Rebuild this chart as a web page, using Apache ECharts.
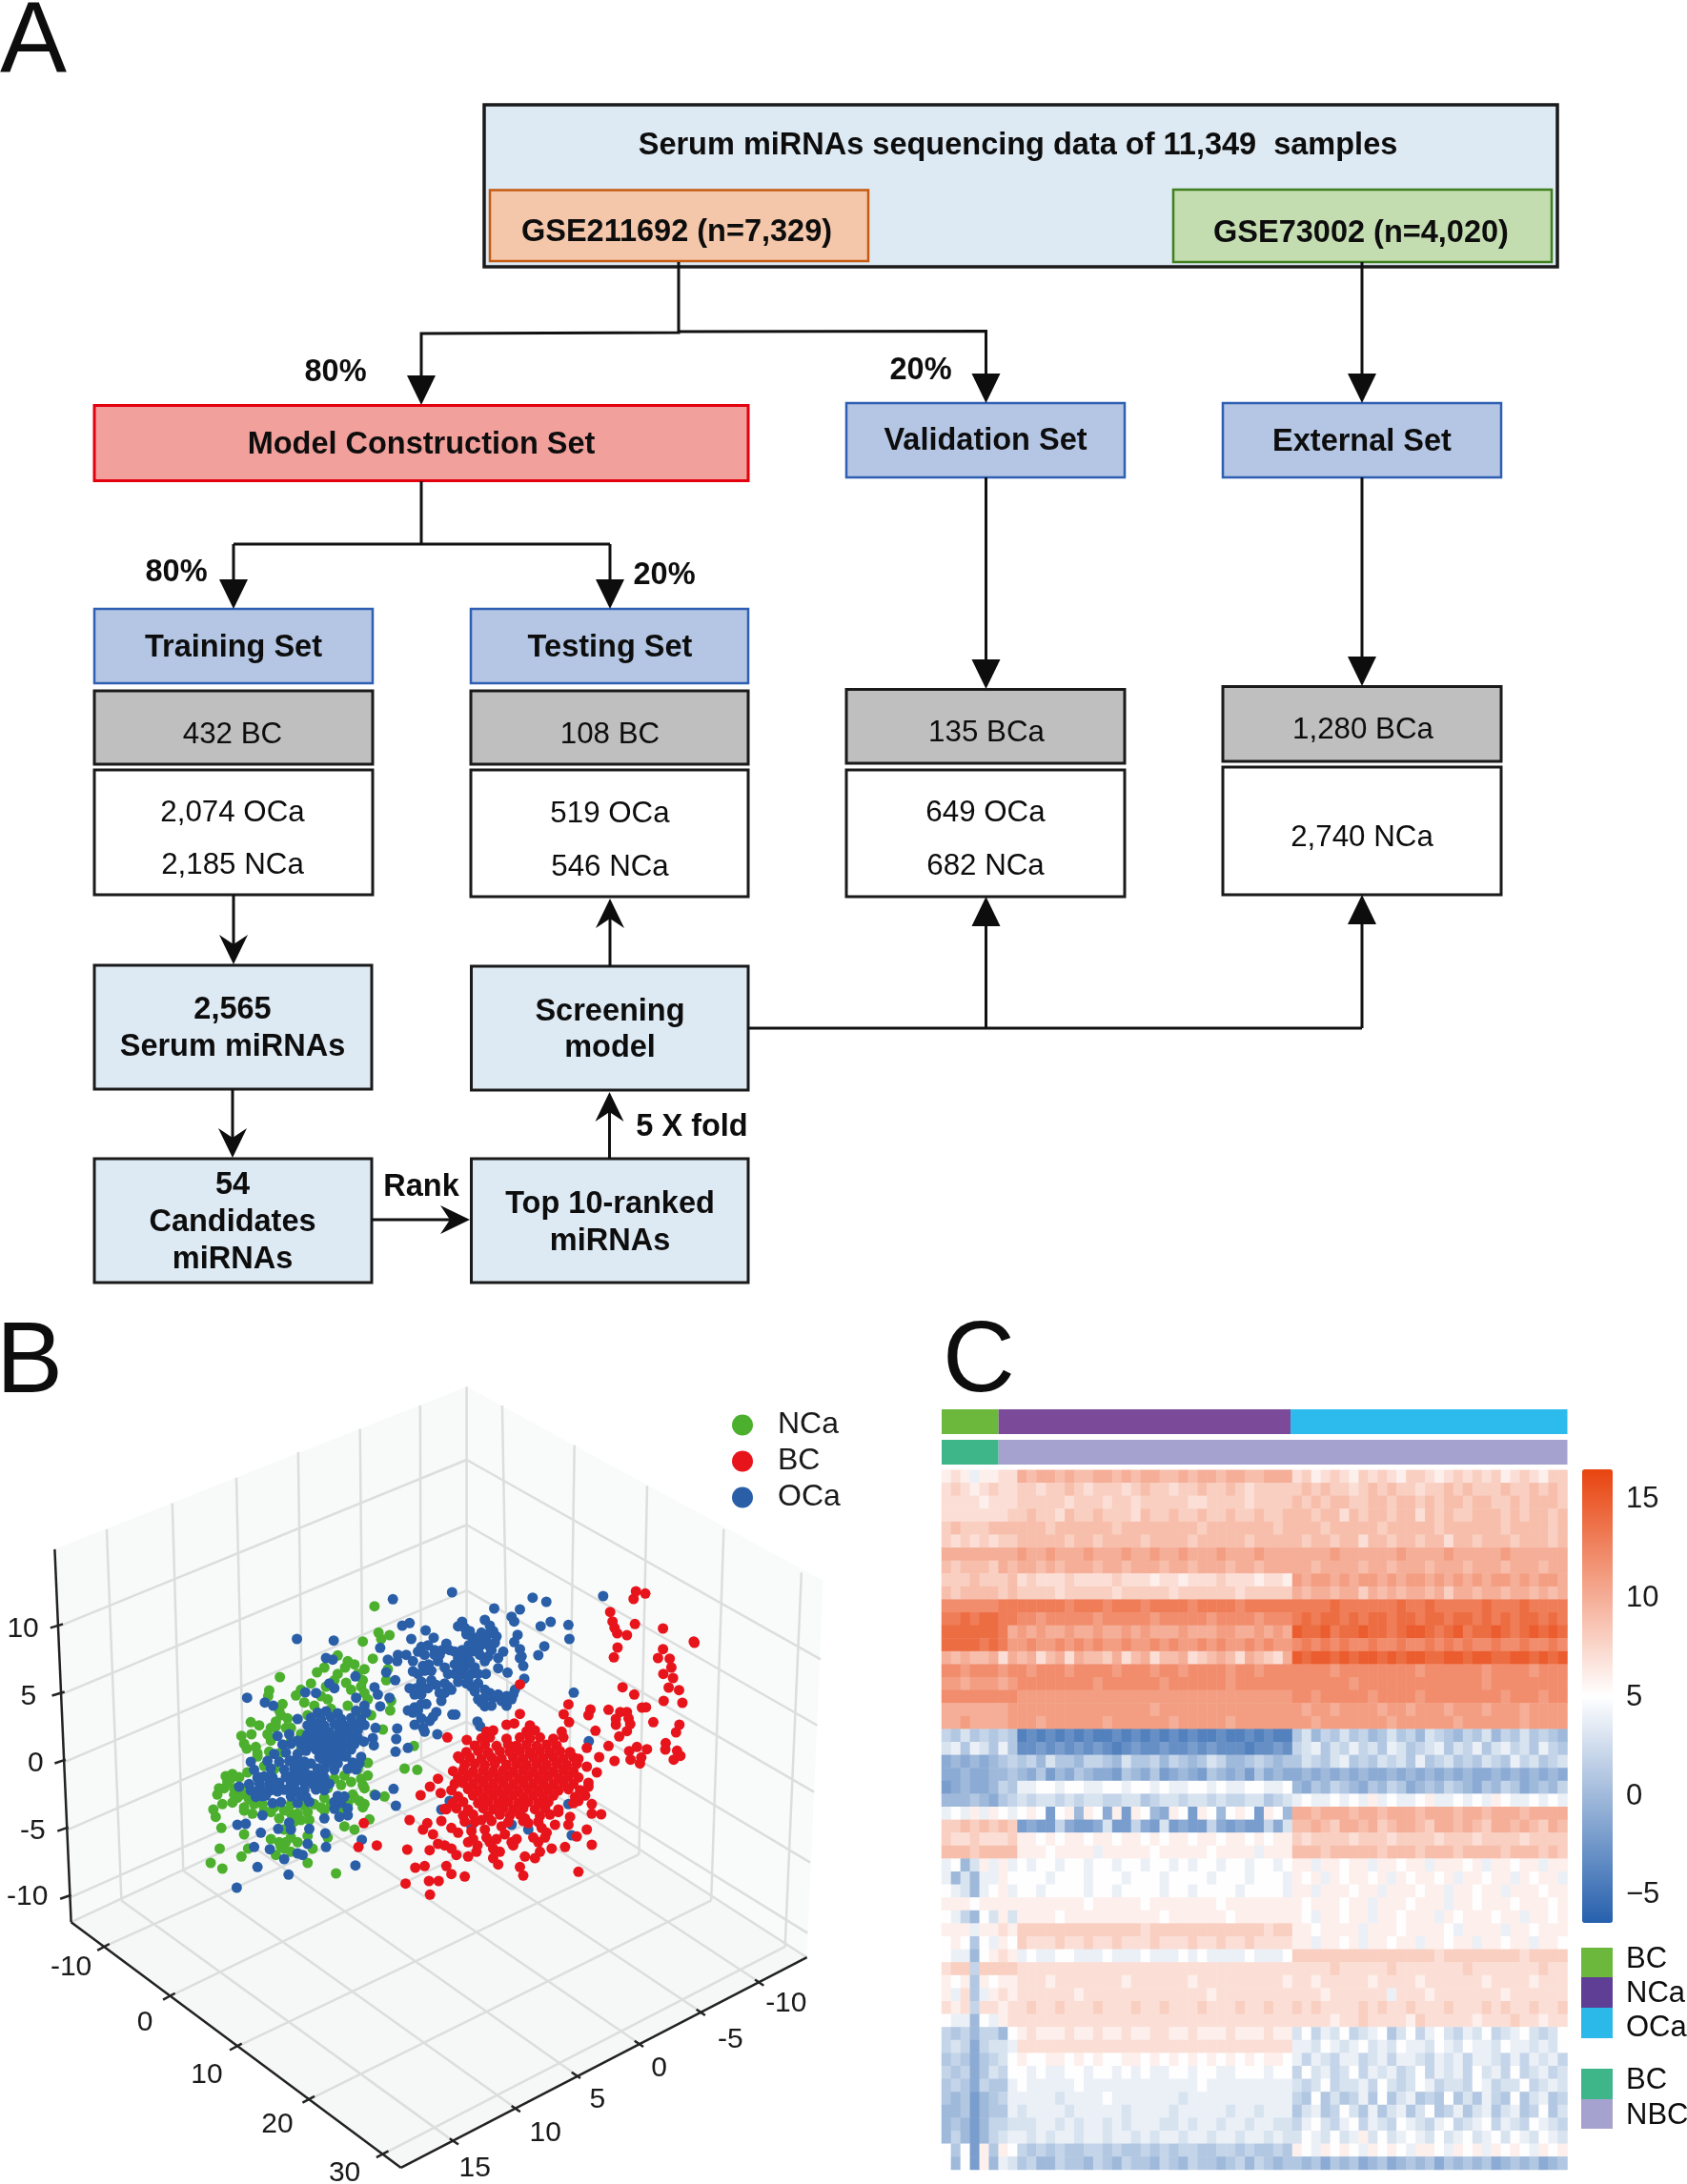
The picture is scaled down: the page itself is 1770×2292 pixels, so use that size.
<!DOCTYPE html>
<html><head><meta charset="utf-8">
<style>html,body{margin:0;padding:0;background:#fff}#c{width:1770px;height:2292px}</style>
<script src="https://cdn.jsdelivr.net/npm/echarts@6/dist/echarts.min.js"></script>
</head><body><div id="c"></div>
<script>
// ---------- data: panel B (projected positions) ----------
const scatterNCa=[550,257,562,340,570,360,595,348,515,368,545,422,590,455,585,490,600,555,597,585,267,480,440,412,470,430,490,440,378,465,400,450,462,450,520,455,515,490,465,498,430,490,510,510,360,500,330,520,315,538,235,522,232,540,275,565,265,585,405,510,410,550,530,550,180,622,205,632,182,660,152,665,160,690,168,705,240,640,255,635,290,610,285,640,330,660,200,730,235,715,575,645,668,697,530,750,640,768,678,772,580,856,550,850,105,792,125,785,145,795,170,780,85,830,80,850,130,850,125,875,95,880,68,897,75,920,92,955,160,975,87,1020,60,1065,95,1083,152,1045,172,1020,350,1065,435,1098,535,928,460,950,490,960,240,990,265,1000,285,1000,300,985,280,1020,255,1040,350,980,365,1020,410,985,160,900,185,910,265,925,300,910,350,905,355,930,390,890,515,820,510,800,520,880,515,890,300,640,240,680,220,760,200,720,130,830,140,860,330,710,340,760,430,800,460,790,480,810,500,770,520,830,450,820,400,860,370,880,340,885,300,880,280,900,160,890,350,600,500,590,540,600,370,570,420,580,470,570,520,530,300,680,265,720,250,770,120,800,150,830,175,865,215,880,250,890,310,935,330,860,410,830,445,860,485,850,505,870,280,960,320,1000,270,1015,300,1030,110,810,100,830,150,850,170,850,190,880,220,900,240,905,320,910,330,930,400,900,420,880,470,880,490,860,530,790,440,470,500,470,480,520,390,540,340,560,270,600,255,620,230,660,195,700,450,900];
const scatterOCa=[782,213,605,235,1023,230,1064,243,1234,225,908,264,985,267,960,290,968,305,1047,320,1077,306,1130,316,1133,360,1058,383,1040,411,633,318,655,310,703,333,660,360,727,356,318,360,428,365,567,388,1146,529,998,485,948,466,920,452,883,470,978,347,968,370,985,392,990,415,985,420,995,445,812,306,820,325,825,345,840,352,860,355,880,300,895,318,905,335,915,352,910,372,895,385,870,378,850,372,832,380,812,395,790,400,765,375,752,395,730,410,710,380,690,385,740,430,712,440,695,445,820,420,822,445,815,470,790,470,770,470,800,495,760,500,735,505,720,490,690,495,675,515,655,515,690,535,705,565,680,585,650,585,665,592,760,530,750,555,825,500,840,510,850,525,860,550,880,572,900,570,895,530,920,535,945,540,965,535,945,570,970,520,850,450,860,470,935,400,920,420,890,415,880,430,735,590,725,605,715,618,783,598,792,598,690,610,670,630,695,640,700,652,738,660,858,620,866,635,645,410,620,410,618,430,590,425,665,430,665,462,585,465,612,490,550,512,560,535,595,545,567,572,553,640,618,642,615,675,613,715,650,703,518,683,545,672,548,695,607,832,553,852,614,885,1191,682,750,897,775,870,1140,978,1130,880,1010,960,960,945,840,950,
800,320,835,335,870,340,890,345,880,360,860,395,840,400,825,410,800,420,775,395,745,410,730,395,700,410,680,400,700,460,680,470,720,460,760,450,790,440,835,430,810,440,800,455,840,470,830,490,780,520,770,510,745,530,710,515,690,515,670,535,670,575,690,565,860,500,880,520,880,545,870,560,905,545,930,555,960,550,885,370,900,395,865,410,
380,592,405,588,440,594,495,586,525,592,320,612,360,608,390,613,420,607,450,612,480,609,510,612,350,632,375,628,400,633,430,628,460,632,490,629,520,631,365,652,390,648,415,653,445,649,470,652,500,648,345,672,375,668,400,673,425,669,450,672,480,668,500,671,330,692,360,689,385,693,410,688,435,692,465,689,490,691,345,712,375,708,400,713,425,709,450,711,480,708,385,732,410,728,435,733,460,729,510,731,360,752,410,748,440,752,485,749,505,752,340,772,380,768,430,772,470,769,495,771,
300,690,275,692,250,722,285,718,320,722,180,747,230,744,265,747,300,743,340,746,190,772,240,768,280,772,310,768,330,771,380,769,200,797,220,793,245,796,300,793,325,797,380,794,400,796,175,817,205,814,235,817,265,813,310,816,340,814,365,817,395,813,415,816,180,837,210,833,240,836,290,833,315,837,375,834,400,836,195,857,225,853,300,856,330,853,345,857,440,854,460,856,245,877,270,874,320,877,355,873,450,876,430,873,430,895,470,893,
240,790,260,815,285,795,300,815,280,835,260,840,205,795,190,840,215,855,340,800,360,790,370,815,340,835,345,790,315,770,295,745,320,745,350,700,320,680,350,660,380,650,440,630,470,640,455,690,420,690,395,700,440,710,465,730,420,750,400,770,395,740,
169,545,222,560,247,570,343,528,375,530,405,420,425,425,415,500,430,515,493,478,495,545,520,570,145,825,215,915,400,925,445,920,470,915,140,945,165,942,295,938,300,960,210,970,262,958,355,958,403,972,512,992,190,1015,237,1022,350,1005,405,1015,320,1035,335,1040,280,1053,200,1078,293,1102,138,1143,493,1073,260,665,295,660];
const scatterBC=[1332,210,1360,217,1325,234,1255,275,1262,305,1268,325,1276,342,1305,348,1329,313,1413,327,1507,372,1505,368,1277,387,1266,418,1413,392,1398,420,1433,422,1438,450,1414,470,1443,483,1430,513,1461,521,1415,555,1471,561,1292,512,1327,535,1130,566,1196,582,1190,600,1116,597,1132,622,1250,583,1285,590,1305,590,1350,576,1362,575,1310,610,1272,612,1272,630,1315,628,1305,650,1282,667,1384,622,1462,630,1452,654,1211,649,1421,688,1420,708,1455,712,1465,728,1445,740,1365,707,1335,700,1312,713,1348,733,1344,752,1316,740,1268,744,1250,697,1222,732,1185,703,985,503,985,596,
740,800,716,825,688,852,748,845,760,895,655,930,708,940,695,960,750,933,780,955,800,970,725,975,840,965,845,990,830,1000,740,1005,760,1010,715,1025,648,1023,780,1020,795,1040,830,1045,855,1030,858,1010,885,985,895,1000,915,990,905,1020,925,1030,905,1050,920,1070,975,990,965,1010,1000,1045,1030,1050,1045,1030,1040,1000,1025,985,1060,985,1080,1020,1120,1015,1090,945,1100,905,1135,920,1130,945,1160,870,1185,960,1155,982,1200,1008,1200,880,1200,910,1228,912,1215,780,1185,762,1190,825,672,1080,700,1075,765,1075,780,1100,820,1108,985,1078,995,1105,1160,1093,643,1130,713,1122,742,1122,716,1165,518,940,557,1010,502,1015,768,670,826,678,800,730,1000,925,1050,955,1065,970,960,1000,940,975,1010,940,930,950,880,960,820,935,870,930,
945,630,968,626,1015,632,885,652,905,648,1005,651,1030,648,1110,652,870,673,895,670,945,674,985,670,1015,673,1045,670,1085,674,1115,670,850,696,880,693,915,697,950,693,975,696,1005,693,1035,697,1065,693,1095,696,825,716,860,713,890,717,925,713,955,716,985,713,1015,717,1045,713,1075,716,1105,713,1135,716,805,736,835,733,870,737,900,733,930,736,965,733,995,737,1025,733,1055,736,1085,733,1115,737,1145,733,1160,737,820,756,850,753,880,757,910,753,945,756,975,753,1005,757,1035,753,1065,756,1095,753,1125,757,1155,753,785,776,815,773,845,777,875,773,905,776,935,773,965,777,995,773,1025,776,1055,773,1085,777,1115,773,1145,776,800,796,830,793,860,797,890,793,920,796,950,793,980,797,1010,793,1040,796,1070,793,1100,797,1130,793,1160,796,790,816,815,813,845,817,875,813,905,816,935,813,965,817,995,813,1025,816,1055,813,1085,817,1115,813,1145,816,1190,813,780,836,830,833,860,837,890,833,920,836,950,833,980,837,1010,833,1040,836,1070,833,1100,837,1130,833,1165,836,800,856,845,853,875,857,905,853,935,856,965,853,995,857,1025,853,1055,856,1085,853,1150,857,1180,853,785,876,815,873,860,877,890,873,920,876,950,873,980,877,1010,873,1040,876,1070,873,1145,877,765,896,795,893,830,897,875,893,905,896,935,893,965,897,995,893,1030,896,1060,893,1100,897,815,916,845,913,890,917,925,913,955,916,985,913,1045,917,1075,913,850,936,900,933,950,937,995,933,1040,936];
const scatterNames=['NCa','BC','OCa'];
const zTicks=['10','5','0','-5','-10'];
const leftTicks=['-10','0','10','20','30'];
const rightTicks=['-10','-5','0','5','10','15'];

// ---------- data: panel C ----------
// one letter per cell: a=-6, b=-5 ... g=0 ... l=5 ... q=10 ... v=15, w=16
const heatRows=[
"mnmkmmnn qpqqpqppqq pqpqqppqpq qpqqppqqq nomnonmono nmoonmnono nomnonmoo",
"nonmnonn oonooponoo onopoonoop ooponoooo opopoonopo poonoopopo oopoopopo",
"nnnnmnnn ooooonooon oonooooonn oooonoooo popoppoopp oppopoppop poopopppo",
"nnnnnnno opoonpoopo oonpoopoop oopoopoop ppoppnpopp oppnpopoop ppopoppop",
"opoooppp pppopppppp oppppppppo pppppppop pppopppppo pppppopppp ppoppppop",
"onononoo pppppoppop pppoppppop ppppopppp poppoppnpp oppoppnppo pppopppop",
"qqqqqqqq rqqrqqqrqq qrqqrqqrqq qrqqqrqqq qqqqrqqqqq qrqqqqrqqq qqrqqqqqq",
"popppoqp qqpqpqqqpq qpqqqpqqpq qqpqqpqqq qqpqqqqpqq pqqqpqqqpq qqpqqqpqq",
"ooopooop nonnnonnnn onnnmnnmnn nonnnmnnm rqrrqrqrrq rqrrqrqrqr qrrqrqrrq",
"poppppop oooonooooo nooooonooo ooonooooo qpqqpqqoqp qpqqpqoqqp qqpqqpqpq",
"sssssstt tttttsttts tttsttttst tttsttttt ttttuttttt tuttuttttt utttutttt",
"ttutuutt ssrsssssrs ssssrsssss rssssrsss tutuututuu tuutuutuut ututuutut",
"uuuuuutq rqrqqrqqrq qrqrqqqrqq qrrqqrqrq vuuvtuuvuu tuvvutuvtu uvutuvuvu",
"uuuututr rsrrsrsrsr rsrrsrsrrs rsrrsrsrr stststssts stsstststs stsstssts",
"qpqppqnq pqnpqnqppo qnpqnppqno pqpnqponq vuvvuvuvvu vuvvuuvvuv vuuvvuvuv",
"ssrsssrs srsssrssss rsssrssrss ssrssrsss ssssrsssss sssrssssss rssssrsss",
"rrqrrrqr ssssssssrs sssssrssss ssrssssss ssssssrsss ssssssssss rssssssss",
"ssssssss rrrrrrrrrr rrrrrrrrrr rrrrrrrrr ssrsssssrs sssrssssss ssrsssrss",
"qqqqqqqr rrrrrrrrrr rrrrqrrrrr rrrrrrrrr rqrrqrrrrq rrqrrrqrrr qrrrqrrrr",
"qqrqqqqr rrqrrrrrrq rrrrrrqrrr rrqrrrrrr rrqrrrrrrr qrrrrrrqrr rrrrqrrrr",
"ihjhihih cdcdcdcdcc dcdcdcdcdc cdccdcdcc hjgihjhigh jhigjihgih jgihjhihg",
"jkhkjhkh ddedededed cdeddedded edddcdded ijkhjikijh kjhijkhjik hjkijhkih",
"fgfgfghi higjhhgiih gjhhigihgh jigghihgh hjihjkhihj ijhkhijhih jihkijhij",
"ffgffggh gfhegfhgff ehgfhefgfe hgfgehfgf fgfgfgfgff gfgfgfgfgf fgfgfgfgf",
"efgffgih kkllkllkkl lkllklkkll klkkllkkl gfhgihgfhg ihfghgihgf hgihfghgi",
"ggghgfhi jijjijijji ijjhijjijj ijiijjhij klkklklkmk lkklmkklkl kmlkklklk",
"klkmkmlk lmlelmgmlf memlgfmlem lglmlemlg qqpqqqpqqp qqqpqqqpqq pqqqpqqqq",
"oopopopo efeeifeefj eeifejefee ifefeeifj ppqpoqqpqo pqqpoqqpqp oqqpqpoqp",
"onnonnno mmlmlmmlmm lmmlmlmmlm mlmmlmlmm onoooonooo noooonooon oooonoooo",
"pppopppp mmmlmmmmkm mmmmlmmmmm lmmmmkmmm pppopppppo pppopppopp ppopppopo",
"klgjmkmk lkllkllkll kllkllklkl lkllkllkl mmkmmlmmkm mlmmkmmmlm kmmlmmkmm",
"kgjgkkml lllklllkll lklllkllll klllklllk mlmkmlmmlm kmlmmlmkmm lmmkmlmmk",
"lkjgklmk llkllllkll kllllkllkl lllkllllk mmkmmmlmmk mmmlmmkmml mmkmmmlmm",
"mmmlmmmm mmmmmmmlmm mmmlmmmmmm mlmmmmmmm mlmmmlmmkm mmlmmmkmml mmmlmmmlm",
"lkigljmj mmmmlmmmmm mmmmmlmmmm mmlmmmmmm mlkmmlmmkm mlmmmkmlmm mlmmkmmlm",
"mmmkmmnm oooooooooo ooonoooooo oooooonoo mmlmmmmkmm mlmmmmlkmm mmkmmlmmm",
"lmlhlkml onnnonnonn onnnonnnon nonnonnnn mmkmmlmkmm lmmkmmlmmk mmlmmkmml",
"lkkglmnm klkkllkkkl kkklkkklkl kkkklkkkl oooooooooo ooooonoooo oooonoooo",
"nooioooo nnnnnnnnnn nnnnnnnnnn nnnnnnnnn nnnnonnnnn onnnnnnnon nnnnnnonn",
"mlmhmlmm nnnmnnnnnn nmnnnnnnmn nnnnnnnnm nnmnnnnnmn nnnmnnnnnn mnnnnmnnn",
"mknhkmnm nnnnnnmnnn nnnnnnnnnn mnnnnnnnn nnnmnnnnnn knnnmnnnnn nnmnnnnnn",
"nmninnmn nonnonnnon nnonnonnno nnnonnonn ononnnnono nnonnnonnn ononnonno",
"lkkglkmn nnnnnnnnnn nnnnnnnnnn nnnnnnnnn nnnnmnnonn nnmonnnnnm nnnonnmnn",
"ihigiigl mnmmmnmmnm mnmmnnmmnm mmnmmmnmm jlikjlijkl hjlikljikj lijkljijl",
"ijifijjk nnnnnnnnnn nnnnnnnnnn nnnnnnnnn kkjlkjkljk jlkkjlkjlk kjlkkjkjl",
"hihfhijl mllmmlmlml lmmlmlmlml mlmlmlmml kikjikkijk ikkjikjkik kjikikjki",
"ihifhjil lklkkllkll klklkkllkl lkklllkll iljkijlikj kijlikjkil jkilijkij",
"hihfihhk lkkkkklkkk kkkkkkkkkl kkkkkkkkk jijlijjkil jijlkijjil kijjlijkj",
"hgheghik kkkkjkkkkl kkkkkkkjkk kkkkkkkkk ihlhjhikhl hjkhihlhjh kihlhjkhi",
"ggheghhk jkkkkjkkkk kjkkkkjkkk kkjkkjkkk hjkhiljhkh jkhjlhikhj khjkhilhj",
"ghgegiij jjkkjkjkkj kjkkkjjkjk kjkkjkkjj ikljiklikj ilkjiklijk likjilkji",
"gigegijk kjkjkkjkkj kkjkjkkjkk jkkjkkjkj jlkjljkmjl jklkjljklj kljlkjlkj",
"lhlemhml ihihihhiih ihhihihiih hiihihhih mlkmlmlkml mlkmmlkmlm kmlmlkmlm",
"lglemgkj higgihhgih gihhgihgih hghigihgh hghfhghfgh fghghfhghg hfghghfgh"];
const annotTopCounts=[6,30.8,29.2];
const annotSecondCounts=[6,60];
const annotTopNames=['BC','NCa','OCa'];
const annotSecondNames=['BC','NBC'];
const colorbarTicks=[-5,0,5,10,15];
const legendTopNames=['BC','NCa','OCa'];
const legendSecondNames=['BC','NBC'];

// ---------- data: panel A text ----------
const flowTitle='Serum miRNAs sequencing data of 11,349  samples';
const flowDatasets=['GSE211692 (n=7,329)','GSE73002 (n=4,020)'];
const flowSets=['Model Construction Set','Validation Set','External Set','Training Set','Testing Set'];
const flowBC=['432 BC','108 BC','135 BCa','1,280 BCa'];
const flowCounts=['2,074 OCa','2,185 NCa','519 OCa','546 NCa','649 OCa','682 NCa','2,740 NCa'];
const flowSteps=['2,565','Serum miRNAs','Screening','model','54','Candidates','miRNAs','Top 10-ranked','miRNAs'];
const flowNotes=['80%','20%','80%','20%','Rank','5 X fold'];

// ---------- helpers ----------
const F='"Liberation Sans",Arial,sans-serif';
const pairs=a=>{const o=[];for(let i=0;i+1<a.length;i+=2)o.push([a[i],a[i+1]]);return o;};
const g=[];
function box(x0,y0,x1,y1,fill,stroke,lw){g.push({type:'rect',shape:{x:x0,y:y0,width:x1-x0,height:y1-y0},style:{fill:fill,stroke:stroke,lineWidth:lw||3}});}
function txt(s,cx,cy,size,bold,al){g.push({type:'text',x:cx,y:cy+1.5,z:5,style:{text:s,fill:'#0d0d0d',font:(bold?'bold ':'')+size+'px '+F,align:al||'center',verticalAlign:'middle',textAlign:al||'center',textVerticalAlign:'middle'}});}
function poly(pts){g.push({type:'polyline',z:3,shape:{points:pts},style:{fill:null,stroke:'#111',lineWidth:3}});}
function head(tx,ty,dx,dy,open,len){ // tip at tx,ty pointing along dx,dy
  const L=len||31,W=15,px=-dy,py=dx;
  const pts=[[tx,ty],[tx-dx*L+px*W,ty-dy*L+py*W]];
  if(open)pts.push([tx-dx*(L-10),ty-dy*(L-10)]);
  pts.push([tx-dx*L-px*W,ty-dy*L-py*W]);
  g.push({type:'polygon',z:4,shape:{points:pts},style:{fill:'#0d0d0d'}});
}
const BLUE='#dde9f3',SET='#b4c6e3',SETB='#2f5fb3',GR='#bfbfbf',K='#1a1a1a';
box(508,110,1634,280,BLUE,K,3.5);
box(514,199.5,911,274,'#f4c7ab','#c55a11',2.5);
box(1231,199,1628,275,'#c3dcb0','#3f7f1e',2.5);
box(99,425.5,785,504.5,'#f1a09c','#e3000f',3);
box(888,423,1180,501,SET,SETB,2.5);
box(1283,423,1575,501,SET,SETB,2.5);
box(99,639,391,717,SET,SETB,2.5);
box(494,639,785,717,SET,SETB,2.5);
box(99,725,391,802,GR,K);box(494,725,785,802,GR,K);box(888,723.5,1180,801,GR,K);box(1283,720.5,1575,799,GR,K);
box(99,808,391,939,'#fff',K);box(494,808,785,941,'#fff',K);box(888,808,1180,941,'#fff',K);box(1283,805,1575,939,'#fff',K);
box(99,1013,390,1143,BLUE,K);box(494.5,1014,785,1144,BLUE,K);box(99,1216,390,1346,BLUE,K);box(494.5,1216,785,1346,BLUE,K);
// connectors
poly([[712,275],[712,349],[442,350],[442,400]]);head(442,425,0,1);
poly([[712,348],[1034.5,347.5],[1034.5,398]]);head(1034.5,423,0,1);
poly([[1429,275],[1429,398]]);head(1429,423,0,1);
poly([[442,505],[442,571]]);poly([[245,571],[640,571]]);poly([[245,571],[245,614]]);poly([[640,571],[640,614]]);head(245,639,0,1);head(640,639,0,1);
poly([[1034.5,501],[1034.5,698]]);head(1034.5,723,0,1);
poly([[1429,501],[1429,695]]);head(1429,720,0,1);
poly([[245,939],[245,1005]]);head(245,1012,0,1,true);
poly([[244,1143],[244,1208]]);head(244,1215,0,1,true);
poly([[390,1280],[486,1280]]);head(493,1280,1,0,true);
poly([[639.5,1216],[639.5,1153]]);head(639.5,1146,0,-1,true);
poly([[640,1014],[640,950]]);head(640,943,0,-1,true);
poly([[785,1079],[1429,1079]]);poly([[1034.5,1079],[1034.5,966]]);poly([[1429,1079],[1429,964]]);head(1034.5,941,0,-1);head(1429,939,0,-1);
// flow text
const BS=32.5,RS=31.3;
txt(flowTitle,1068,152,BS,true);
txt(flowDatasets[0],710,243,BS,true);txt(flowDatasets[1],1428,244,BS,true);
txt(flowSets[0],442,466,BS,true);txt(flowSets[1],1034,462,BS,true);txt(flowSets[2],1429,463,BS,true);txt(flowSets[3],245,679,BS,true);txt(flowSets[4],640,679,BS,true);
txt(flowBC[0],244,770,RS);txt(flowBC[1],640,770,RS);txt(flowBC[2],1035,768,RS);txt(flowBC[3],1430,765,RS);
txt(flowCounts[0],244,852,RS);txt(flowCounts[1],244,907,RS);txt(flowCounts[2],640,853,RS);txt(flowCounts[3],640,909,RS);txt(flowCounts[4],1034,852,RS);txt(flowCounts[5],1034,908,RS);txt(flowCounts[6],1429,878,RS);
txt(flowSteps[0],244,1059,BS,true);txt(flowSteps[1],244,1098,BS,true);txt(flowSteps[2],640,1061,BS,true);txt(flowSteps[3],640,1099,BS,true);txt(flowSteps[4],244,1243,BS,true);txt(flowSteps[5],244,1282,BS,true);txt(flowSteps[6],244,1321,BS,true);txt(flowSteps[7],640,1263,BS,true);txt(flowSteps[8],640,1302,BS,true);
txt(flowNotes[0],352,390,BS,true);txt(flowNotes[1],966,388,BS,true);txt(flowNotes[2],185,600,BS,true);txt(flowNotes[3],697,603,BS,true);txt(flowNotes[4],442,1245,BS,true);txt(flowNotes[5],726,1182,BS,true);
// panel letters
txt('A',0,44.5,105,false,'left');txt('B',-4,1431,105,false,'left');txt('C',989,1430,105,false,'left');
// heat legend swatches and labels
const sw=[[2044,2075,'#6bb83c'],[2075,2107,'#5f3f96'],[2107,2139,'#2bb9ea'],[2171,2203,'#3fb68a'],[2203,2234,'#a6a2cf']];
sw.forEach(s=>g.push({type:'rect',shape:{x:1659,y:s[0],width:33,height:s[1]-s[0]},style:{fill:s[2]}}));
legendTopNames.forEach((n,i)=>txt(n,1706,[2055,2091,2127][i],31,false,'left'));
legendSecondNames.forEach((n,i)=>txt(n,1706,[2182,2219][i],31,false,'left'));

// ---------- panel B box ----------
const planes=[[[100,397],[853,97],[853,745],[130,1085]],[[853,97],[1505,455],[1475,1150],[853,745]],[[130,1085],[853,745],[1475,1150],[733,1538]]];
const planeFill=['#f8fafa','#f9fbfb','#f6f8f7'];
const gridSegs=[[195,360,222,1045],[315,312,335,990],[432,265,448,935],[545,218,555,885],[658,175,665,835],[768,132,770,785],[853,97,853,745],
[106,540,853,232],[111,665,853,352],[117,790,853,473],[122,915,853,595],[127,1040,853,715],
[853,232,1500,600],[853,352,1494,722],[853,473,1488,845],[853,595,1481,975],[853,715,1476,1105],
[918,132,930,795],[1050,205,1040,865],[1183,280,1168,960],[1323,360,1300,1045],[1465,440,1435,1130],
[830,1490,222,1045],[945,1430,335,990],[1055,1368,448,935],[1170,1310,555,885],[1283,1252,665,835],[1390,1197,770,785],
[190,1130,930,795],[310,1222,1040,865],[432,1315,1168,960],[565,1412,1300,1045],[700,1513,1435,1130],
[130,1085,853,745],[853,745,1475,1150]];
const axisSegs=[[100,397,130,1085],[130,1085,733,1538],[733,1538,1475,1150],
[92,542,115,535],[95,667,118,660],[100,792,120,785],[105,917,125,910],[110,1042,130,1035],
[178,1137,200,1125],[298,1228,320,1216],[420,1321,442,1309],[553,1418,575,1406],[688,1519,710,1507],
[822,1484,838,1495],[935,1424,951,1435],[1045,1362,1061,1373],[1160,1304,1176,1315],[1273,1246,1289,1257],[1380,1191,1396,1202]];
const tickPos=[[42,544],[52,669],[65,792],[60,917],[50,1039],[130,1169],[265,1270],[378,1367],[507,1459],[630,1549],[1437,1235],[1335,1302],[1205,1354],[1092,1412],[997,1475],[868,1539]];
const tickText=zTicks.concat(leftTicks,rightTicks);

function segSeries(name,data,color,lw,z){return{type:'custom',name:name,xAxisIndex:0,yAxisIndex:0,z:z,silent:true,clip:false,encode:{x:[0,2],y:[1,3]},data:data,
  renderItem:(p,api)=>{const a=api.coord([api.value(0),api.value(1)]),b=api.coord([api.value(2),api.value(3)]);
    return{type:'line',shape:{x1:a[0],y1:a[1],x2:b[0],y2:b[1]},style:{stroke:color,lineWidth:lw,fill:null}};}};}

// ---------- heat cells ----------
const heatData=[];
heatRows.forEach((r,y)=>{const s=r.replace(/ /g,'');for(let x=0;x<66;x++){const c=s[Math.min(x,s.length-1)];heatData.push([x,y,c.charCodeAt(0)-103]);}});
const colIdx=Array.from({length:66},(_,i)=>i),rowIdx=heatRows.map((_,i)=>i);
const hide={show:false};

const grids=[
 {left:0,top:1400,width:900,height:892},
 {left:200,top:1600,width:550,height:400},
 {left:988,top:1542.7,width:656.5,height:734.3},
 {left:988,top:1479,width:656.5,height:26},
 {left:988,top:1511,width:656.5,height:26},
 {left:1660,top:1542,width:32,height:476}];

const option={animation:false,backgroundColor:'#fff',graphic:{elements:g},grid:grids,
 legend:{orient:'vertical',left:768,top:1477,itemWidth:22,itemHeight:22,itemGap:1,padding:0,data:scatterNames,icon:'circle',
   textStyle:{fontFamily:F,fontSize:32,color:'#1a1a1a',padding:[2,0,0,21],lineHeight:35},selectedMode:false},
 xAxis:[
  {gridIndex:0,type:'value',min:0,max:1568,...hide},
  {gridIndex:1,type:'value',min:0,max:1568,...hide},
  {gridIndex:2,type:'category',data:colIdx,...hide},
  {gridIndex:3,type:'value',min:0,max:66,...hide},
  {gridIndex:4,type:'value',min:0,max:66,...hide},
  {gridIndex:5,type:'value',min:0,max:1,...hide}],
 yAxis:[
  {gridIndex:0,type:'value',min:0,max:1568,inverse:true,...hide},
  {gridIndex:1,type:'value',min:0,max:1200,inverse:true,...hide},
  {gridIndex:2,type:'category',data:rowIdx,inverse:true,...hide},
  {gridIndex:3,type:'category',data:[''],...hide},
  {gridIndex:4,type:'category',data:[''],...hide},
  {gridIndex:5,type:'value',min:-6.4,max:16.5,position:'right',splitLine:{show:false},axisLine:{show:false},axisTick:{show:false},
   axisLabel:{margin:14,fontFamily:F,fontSize:31,color:'#1a1a1a',padding:[11,0,0,0],customValues:colorbarTicks,formatter:v=>String(v).replace('-','\u2212')}}],
 visualMap:{type:'continuous',seriesIndex:[12],dimension:2,min:-6.4,max:16.5,left:1660,top:1542,itemWidth:32,itemHeight:476,padding:0,calculable:false,realtime:false,
   text:null,inRange:{color:['#2660ad','#ffffff','#e8440f']}},
 series:[
  {type:'custom',name:'planes',xAxisIndex:0,yAxisIndex:0,z:1,silent:true,clip:false,data:planes.map((_,i)=>[i,0]),
   renderItem:(p,api)=>{const i=api.value(0);return{type:'polygon',shape:{points:planes[i].map(q=>api.coord(q))},style:{fill:planeFill[i]}};}},
  segSeries('grid3d',gridSegs,'#dcdede',2.5,2),
  segSeries('axes3d',axisSegs,'#222222',2.5,3),
  {type:'custom',name:'ticks3d',xAxisIndex:0,yAxisIndex:0,z:3,silent:true,clip:false,data:tickPos,
   renderItem:(p,api)=>{const a=api.coord([api.value(0),api.value(1)]);return{type:'text',x:a[0],y:a[1],style:{text:tickText[p.dataIndexInside],fill:'#1a1a1a',font:'30px '+F,align:'center',verticalAlign:'middle',textAlign:'center',textVerticalAlign:'middle'}};}},
  {type:'scatter',name:'NCa',xAxisIndex:1,yAxisIndex:1,z:5,symbolSize:11,itemStyle:{color:'#4cb02e',opacity:1},data:pairs(scatterNCa)},
  {type:'scatter',name:'OCa',xAxisIndex:1,yAxisIndex:1,z:6,symbolSize:11,itemStyle:{color:'#2a5fa8',opacity:1},data:pairs(scatterOCa)},
  {type:'scatter',name:'BC',xAxisIndex:1,yAxisIndex:1,z:7,symbolSize:11,itemStyle:{color:'#e8141c',opacity:1},data:pairs(scatterBC)},
  ...annotTopCounts.map((v,i)=>({type:'bar',name:'top '+annotTopNames[i],xAxisIndex:3,yAxisIndex:3,stack:'t',barWidth:'100%',itemStyle:{color:['#6bb83c','#7b4b9a','#2dbaec'][i]},data:[v]})),
  ...annotSecondCounts.map((v,i)=>({type:'bar',name:'second '+annotSecondNames[i],xAxisIndex:4,yAxisIndex:4,stack:'s',barWidth:'100%',itemStyle:{color:['#3fb68a','#a6a2cf'][i]},data:[v]})),
  {type:'heatmap',name:'heat',xAxisIndex:2,yAxisIndex:2,data:heatData,progressive:0,itemStyle:{borderWidth:0}}
 ]};
const chart=echarts.init(document.getElementById('c'),null,{renderer:'canvas',width:1770,height:2292});
chart.setOption(option);
</script></body></html>
